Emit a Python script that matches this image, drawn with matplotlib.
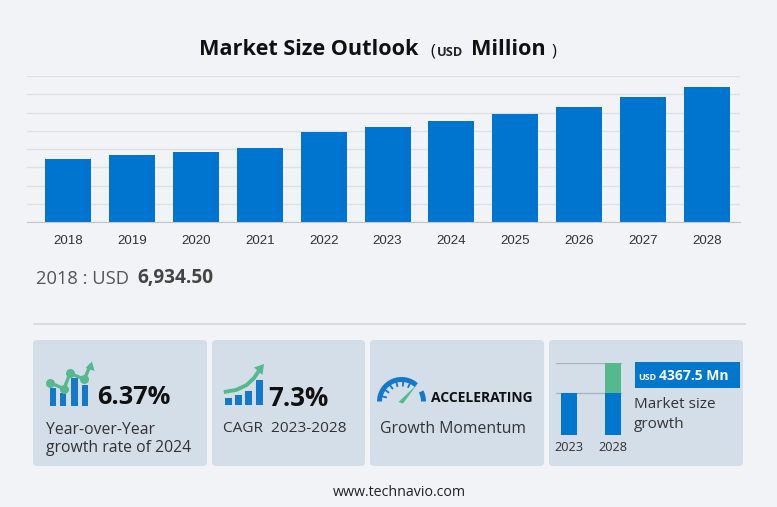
import numpy as np
import matplotlib
matplotlib.use("Agg")
import matplotlib.pyplot as plt
from matplotlib.patches import FancyBboxPatch, Rectangle, Polygon

# valores
years = ["2018", "2019", "2020", "2021", "2022", "2023", "2024", "2025", "2026", "2027", "2028"]
market_size = [6934.5, 7340, 7700, 8110, 9810, 10374, 11035, 11800, 12620, 13650, 14742]
y_ticks = [0, 2000, 4000, 6000, 8000, 10000, 12000, 14000, 16000]

mini_years = ["2023", "2028"]
mini_base = [4.15, 4.15]
mini_growth = [0, 3.05]

BG = "#f2f3f6"
CARD = "#d3deE9"
BLUE = "#0077cc"
ICON_BLUE = "#1379c8"
GREEN = "#55b98e"
W, H = 777, 507
SANS = "Open Sans"
TXT = "#333333"


def px_axes(fig, x0, y0, x1, y1):
    """Axes a partir de un rectangulo en pixeles (y hacia abajo)."""
    return fig.add_axes([x0 / W, 1 - y1 / H, (x1 - x0) / W, (y1 - y0) / H])


fig = plt.figure(figsize=(W / 100, H / 100), dpi=100, facecolor=BG)

# --- capa en pixeles para tarjetas, textos e iconos ---
bg = fig.add_axes([0, 0, 1, 1])
bg.set_xlim(0, W)
bg.set_ylim(H, 0)
bg.axis("off")

# --- grafico principal ---
ax = px_axes(fig, 27, 76, 740, 222)
ax.set_facecolor("none")
ax.bar(range(len(years)), market_size, width=0.72, color="#0075cf", zorder=2)
ax.set_xlim(-0.642, 10.516)
ax.set_ylim(0, 16000)
ax.set_yticks(y_ticks)
ax.set_xticks(range(len(years)))
ax.set_xticklabels(years, fontsize=9.6, color="#333333", family="Liberation Sans")
ax.tick_params(axis="both", length=0, labelleft=False, pad=9)
ax.grid(True, axis="y", color="#dfe0e3", linewidth=1, zorder=1)
for s in ["top", "right", "left"]:
    ax.spines[s].set_visible(False)
ax.spines["bottom"].set_color("#c4c6cb")

# titulo
bg.text(199, 49.5, "Market Size Outlook", fontsize=15.6, fontweight="bold", family=SANS, color="#111111", va="center")
bg.text(430, 51, "(", fontsize=12, family=SANS, color="#111111", va="center")
bg.text(437, 52, "USD", fontsize=9.2, fontweight="bold", family=SANS, color="#222222", va="center")
bg.text(471, 49.5, "Million", fontsize=15.6, fontweight="bold", family=SANS, color="#111111", va="center")
bg.text(552, 51, ")", fontsize=12, family=SANS, color="#111111", va="center")

bg.text(36, 279.5, "2018 : USD", fontsize=13.2, family=SANS, color="#555555", va="center")
bg.text(137, 278.5, "6,934.50", fontsize=13.7, fontweight="bold", family=SANS, color="#444444", va="center")
bg.plot([34, 745], [323.5, 323.5], color="#d5d7dc", linewidth=1.2)

# tarjetas
for x0, x1 in [(33, 207), (212, 365), (370, 544), (549, 743)]:
    bg.add_patch(FancyBboxPatch((x0 + 4, 344), x1 - x0 - 8, 118, boxstyle="round,pad=4,rounding_size=4",
                                facecolor=CARD, edgecolor="none"))

# icono 1
icon1_x = [52.7, 62.7, 74.3, 85]
icon1_top = [388, 393, 378, 385]
for x, t in zip(icon1_x, icon1_top):
    bg.add_patch(Rectangle((x - 3.2, t), 6.4, 405.5 - t, color=ICON_BLUE, linewidth=0))
icon1_lx = [50, 64, 70, 84.3, 90]
icon1_ly = [382.7, 388.7, 373.3, 379.3, 366]
bg.plot(icon1_lx, icon1_ly, color=GREEN, linewidth=2.4)
bg.scatter(icon1_lx[:4], icon1_ly[:4], s=42, color=GREEN, linewidths=0, zorder=3)
bg.add_patch(Polygon([(92, 361.5), (94.5, 371), (85.5, 368)], color=GREEN, linewidth=0))
bg.text(97, 398, "6.37%", fontsize=18.3, fontweight="bold", family=SANS, color="#111111", va="center")
bg.text(46, 429.5, "Year-over-Year", fontsize=11.3, family=SANS, color=TXT, va="center")
bg.text(46, 448.5, "growth rate of 2024", fontsize=11.3, family=SANS, color=TXT, va="center")

# icono 2
icon2_x = [228.5, 238.5, 248.5, 259]
icon2_top = [397.7, 395, 391, 380]
for x, t in zip(icon2_x, icon2_top):
    bg.add_patch(Rectangle((x - 3.5, t), 7, 404.7 - t, color=ICON_BLUE, linewidth=0))
bg.plot([225.7, 236, 246.7, 254, 259.5], [391.7, 390, 385, 378, 370], color=GREEN, linewidth=2.8)
bg.add_patch(Polygon([(264, 364), (262.5, 375), (254, 367.5)], color=GREEN, linewidth=0))
bg.text(268, 398, "7.3%", fontsize=18.6, fontweight="bold", family=SANS, color="#111111", va="center")
bg.text(223, 429, "CAGR  2023-2028", fontsize=11.1, family=SANS, color=TXT, va="center")

# icono 3: velocimetro
theta = np.radians(np.linspace(180, 48, 40))
bg.plot(401.5 + 22 * np.cos(theta), 401.5 - 22 * np.sin(theta), color=ICON_BLUE, linewidth=3.6, solid_capstyle="butt")
theta = np.radians(np.linspace(27, 0, 10))
bg.plot(401.5 + 22 * np.cos(theta), 401.5 - 22 * np.sin(theta), color=ICON_BLUE, linewidth=3.6, solid_capstyle="butt")
for a in np.radians(np.linspace(165, 65, 6)):
    bg.plot([401.5 + 16 * np.cos(a), 401.5 + 21 * np.cos(a)],
            [401.5 - 16 * np.sin(a), 401.5 - 21 * np.sin(a)], color=ICON_BLUE, linewidth=1.3)
bg.add_patch(Polygon([(398.5, 402), (403, 403.5), (417, 384.5)], color=GREEN, linewidth=0))
bg.text(431, 397.5, "ACCELERATING", fontsize=10, fontweight="bold", family=SANS, color="#111111", va="center")
bg.text(380, 429, "Growth Momentum", fontsize=11.3, family=SANS, color=TXT, va="center")

# tarjeta 4: mini grafico
mini = px_axes(fig, 556, 362.5, 622, 434.5)
mini.set_facecolor("none")
mini.bar([0, 1], mini_base, width=0.37, color=BLUE, zorder=2)
mini.bar([0, 1], mini_growth, bottom=mini_base, width=0.37, color=GREEN, zorder=2)
mini.set_xlim(-0.306, 1.214)
mini.set_ylim(0, 7.2)
mini.set_yticks([4.15, 7.2])
mini.set_xticks([0, 1])
mini.set_xticklabels(mini_years, fontsize=9.2, family=SANS, color=TXT)
mini.tick_params(axis="both", length=0, labelleft=False, pad=5)
mini.grid(True, axis="y", color="#a9b1ba", linewidth=0.9, zorder=1)
for s in mini.spines.values():
    s.set_visible(False)

bg.add_patch(Rectangle((635, 362), 105, 26, color=BLUE, linewidth=0))
bg.text(638, 377.5, "USD", fontsize=6.4, fontweight="bold", family=SANS, color="white", va="center")
bg.text(659, 376, "4367.5 Mn", fontsize=10, fontweight="bold", family=SANS, color="white", va="center")
bg.text(634, 405, "Market size", fontsize=11, family=SANS, color=TXT, va="center")
bg.text(634, 424.5, "growth", fontsize=11, family=SANS, color=TXT, va="center")

bg.text(399, 493, "www.technavio.com", fontsize=10.3, family=SANS, color="#222222", ha="center", va="center")

fig.savefig("out.png", dpi=100, facecolor=BG)
plt.close(fig)
